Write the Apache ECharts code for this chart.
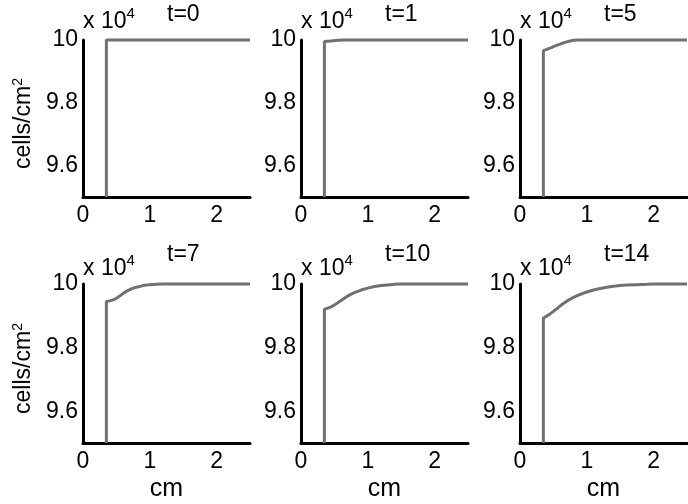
<!DOCTYPE html>
<html>
<head>
<meta charset="utf-8">
<script src="https://cdn.jsdelivr.net/npm/echarts@6/dist/echarts.min.js"></script>
<style>
html,body{margin:0;padding:0;background:#fff;}
#chart{width:688px;height:504px;}
</style>
</head>
<body>
<div id="chart"></div>
<script>
// ---- data (cells/cm^2 in units of 10^4, position in cm) ----
const titles = ['t=0', 't=1', 't=5', 't=7', 't=10', 't=14'];
const xTicks = [0, 1, 2];
const yTicks = [9.6, 9.8, 10];
const yTickLabels = ['9.6', '9.8', '10'];

const t0X = [0.35, 0.35, 2.5];
const t0Y = [9.5, 10, 10];
const t1X = [0.35, 0.35, 0.45, 0.55, 0.65, 2.5];
const t1Y = [9.5, 9.995, 9.997, 9.999, 10, 10];
const t5X = [0.35, 0.35, 0.4, 0.47, 0.5, 0.55, 0.6, 0.65, 0.7, 0.75, 0.8, 0.9, 2.5];
const t5Y = [9.5, 9.966, 9.970, 9.976, 9.979, 9.983, 9.987, 9.991, 9.994, 9.997, 9.999, 10, 10];
const t7X = [0.35, 0.35, 0.4, 0.45, 0.5, 0.55, 0.6, 0.65, 0.7, 0.75, 0.8, 0.9, 1.0, 1.1, 1.2, 2.5];
const t7Y = [9.5, 9.945, 9.947, 9.950, 9.955, 9.962, 9.970, 9.977, 9.982, 9.987, 9.990, 9.995, 9.998, 9.9995, 10, 10];
const t10X = [0.35, 0.35, 0.4, 0.45, 0.5, 0.55, 0.6, 0.65, 0.7, 0.75, 0.8, 0.9, 1.0, 1.1, 1.2, 1.3, 1.4, 1.5, 2.5];
const t10Y = [9.5, 9.92, 9.924, 9.928, 9.934, 9.941, 9.948, 9.955, 9.962, 9.968, 9.973, 9.981, 9.987, 9.992, 9.995, 9.997, 9.999, 10, 10];
const t14X = [0.35, 0.35, 0.4, 0.45, 0.5, 0.55, 0.6, 0.65, 0.7, 0.75, 0.8, 0.9, 1.0, 1.1, 1.2, 1.3, 1.4, 1.5, 1.6, 1.75, 1.9, 2.0, 2.5];
const t14Y = [9.5, 9.893, 9.899, 9.906, 9.914, 9.922, 9.931, 9.939, 9.946, 9.952, 9.958, 9.967, 9.975, 9.981, 9.986, 9.990, 9.993, 9.995, 9.997, 9.998, 9.999, 10, 10];

const seriesX = [t0X, t1X, t5X, t7X, t10X, t14X];
const seriesY = [t0Y, t1Y, t5Y, t7Y, t10Y, t14Y];

// ---- layout ----
const FONT = 'Liberation Sans, Arial, Helvetica, sans-serif';
const lefts = [83, 301, 520];
const tops = [40, 284];
const W = 167;
const Hs = [157, 159];

const grids = [], xAxes = [], yAxes = [], series = [], graphics = [];
for (let i = 0; i < 6; i++) {
  const r = Math.floor(i / 3), c = i % 3;
  const left = lefts[c], top = tops[r];
  grids.push({left: left, top: top, width: W, height: Hs[r], containLabel: false});
  xAxes.push({
    type: 'value', gridIndex: i, min: 0, max: 2.5,
    name: r === 1 ? 'cm' : '', nameLocation: 'middle', nameGap: 34,
    nameTextStyle: {fontFamily: FONT, fontSize: 25, color: '#000'},
    axisLine: {show: true, onZero: false, lineStyle: {color: '#000', width: 3}},
    axisTick: {show: false},
    splitLine: {show: false},
    axisLabel: {customValues: xTicks, fontFamily: FONT, fontSize: 23, color: '#000', margin: 7,
      formatter: v => String(v)}
  });
  yAxes.push({
    type: 'value', gridIndex: i, min: 9.5, max: 10,
    name: c === 0 ? '{a|cells/cm}{b|2}' : '', nameLocation: 'middle', nameGap: 48, nameRotate: 90,
    nameTextStyle: {fontFamily: FONT, color: '#000', padding: [0, 10, 0, 0],
      rich: {a: {fontFamily: FONT, fontSize: 23, color: '#000', verticalAlign: 'bottom'},
             b: {fontFamily: FONT, fontSize: 14, color: '#000', verticalAlign: 'top', padding: [0, 0, 10, 0]}}},
    axisLine: {show: true, onZero: false, lineStyle: {color: '#000', width: 3}},
    axisTick: {show: false},
    splitLine: {show: false},
    axisLabel: {customValues: yTicks, fontFamily: FONT, fontSize: 23, color: '#000', margin: 5,
      formatter: v => yTickLabels[yTicks.findIndex(t => Math.abs(t - v) < 1e-6)]}
  });
  series.push({
    type: 'line', xAxisIndex: i, yAxisIndex: i,
    data: seriesX[i].map((x, k) => [x, seriesY[i][k]]),
    showSymbol: false, symbol: 'none', clip: false,
    lineStyle: {color: '#707070', width: 3}, z: 3
  });
  // exponent label
  graphics.push({
    type: 'text', left: left, top: top - (r === 0 ? 34 : 31),
    style: {text: '{a|x 10}{b|4}', fill: '#000',
      rich: {a: {fontFamily: FONT, fontSize: 23, fill: '#000', verticalAlign: 'bottom'},
             b: {fontFamily: FONT, fontSize: 15, fill: '#000', verticalAlign: 'top', padding: [0, 0, 12, 0]}}}
  });
  // panel title
  graphics.push({
    type: 'text', x: left + 84, y: r === 0 ? 15 : 255,
    style: {text: titles[i], font: '23px ' + FONT, fill: '#000', align: 'left', verticalAlign: 'middle'}
  });
}

const chart = echarts.init(document.getElementById('chart'), null, {renderer: 'canvas'});
chart.setOption({
  animation: false,
  backgroundColor: '#fff',
  grid: grids, xAxis: xAxes, yAxis: yAxes, series: series, graphic: graphics
});
</script>
</body>
</html>
